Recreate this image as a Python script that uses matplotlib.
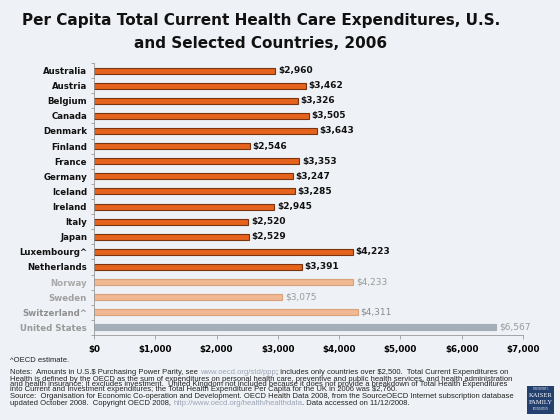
import matplotlib
matplotlib.use("Agg")
import matplotlib.pyplot as plt
from matplotlib.patches import Rectangle

countries = ["Australia", "Austria", "Belgium", "Canada", "Denmark", "Finland", "France",
             "Germany", "Iceland", "Ireland", "Italy", "Japan", "Luxembourg^", "Netherlands",
             "Norway", "Sweden", "Switzerland^", "United States"]
values = [2960, 3462, 3326, 3505, 3643, 2546, 3353, 3247, 3285, 2945, 2520, 2529,
          4223, 3391, 4233, 3075, 4311, 6567]
xticks = [0, 1000, 2000, 3000, 4000, 5000, 6000, 7000]
xtick_labels = ["$0", "$1,000", "$2,000", "$3,000", "$4,000", "$5,000", "$6,000", "$7,000"]

bg = "#eef1f5"
orange = "#e5631c"
orange_edge = "#7a3510"
faded = "#f1b894"
faded_edge = "#d9a07c"
us_col = "#a3aeb9"

bar_colors = [orange] * 14 + [faded] * 3 + [us_col]
edge_colors = [orange_edge] * 14 + [faded_edge] * 3 + [us_col]
label_colors = ["#111111"] * 14 + ["#a9a9a9", "#a0a0a0", "#909090", "#9a9a9a"]
value_colors = ["#111111"] * 14 + ["#9a9a9a", "#9a9a9a", "#8a8a8a", "#9a9a9a"]

fig = plt.figure(figsize=(5.6, 4.2), dpi=100, facecolor=bg)
ax = fig.add_axes([94/560, 1-335/420, (523-94)/560, (335-63)/420])
ax.set_facecolor(bg)

y = list(range(len(countries)))
ax.barh(y, values, height=0.4, color=bar_colors, edgecolor=edge_colors, linewidth=0.8)
ax.set_ylim(len(countries) - 0.5, -0.5)
ax.set_xlim(0, 7000)

ax.set_yticks(y)
ax.set_yticklabels(countries, fontsize=6.2, fontweight="bold")
for lab, c in zip(ax.get_yticklabels(), label_colors):
    lab.set_color(c)
ax.tick_params(axis="y", length=0, pad=5)
ax.set_yticks([i + 0.5 for i in range(-1, len(countries))], minor=True)
ax.tick_params(axis="y", which="minor", length=2.5, color="#999999", width=0.6)

ax.set_xticks(xticks)
ax.set_xticklabels(xtick_labels, fontsize=6.3, fontweight="bold")
ax.tick_params(axis="x", length=3, color="#999999", width=0.6, pad=4)

for s in ["top", "right"]:
    ax.spines[s].set_visible(False)
for s in ["left", "bottom"]:
    ax.spines[s].set_color("#999999")
    ax.spines[s].set_linewidth(0.6)

for yi, v, c in zip(y, values, value_colors):
    ax.text(v + 40, yi, "${:,}".format(v), va="center", ha="left", fontsize=6.5,
            fontweight="bold" if c == "#111111" else "normal", color=c)

fig.text(261/560, 1-21/420, "Per Capita Total Current Health Care Expenditures, U.S.",
         ha="center", va="center", fontsize=11, fontweight="heavy", color="#111111")
fig.text(261/560, 1-43/420, "and Selected Countries, 2006",
         ha="center", va="center", fontsize=11, fontweight="heavy", color="#111111")

fs = 5.5
fn = dict(fontsize=fs, family="Liberation Sans", color="#222222")
link = dict(fontsize=fs, family="Liberation Sans", color="#9aa4b4")

fig.text(10/560, 1-361/420, "^OECD estimate.", va="center", **fn)


def seq(ypix, parts):
    last = None
    for txt, kw in parts:
        if last is None:
            last = fig.text(10/560, 1-ypix/420, txt, va="center", ha="left", **kw)
        else:
            last = ax.annotate(txt, xy=(1, 0.5), xycoords=last, va="center", ha="left",
                               annotation_clip=False, **kw)


seq(372.8, [("Notes:  Amounts in U.S.$ Purchasing Power Parity, see ", fn),
            ("www.oecd.org/std/ppp", link),
            ("; includes only countries over $2,500.  Total Current Expenditures on", fn)])
fig.text(10/560, 1-384.6/420,
         "Health is defined by the OECD as the sum of expenditures on personal health care, preventive and public health services, and health administration\n"
         "and health insurance; it excludes investment.  United Kingdom not included because it does not provide a breakdown of Total Health Expenditures\n"
         "into Current and Investment expenditures; the Total Health Expenditure Per Capita for the UK in 2006 was $2,760.",
         va="center", ha="left", linespacing=0.66, **fn)
seq(396.8, [("Source:  Organisation for Economic Co-operation and Development. OECD Health Data 2008, from the SourceOECD Internet subscription database", fn)])
seq(403.6, [("updated October 2008.  Copyright OECD 2008, ", fn),
            ("http://www.oecd.org/health/healthdata", link),
            (". Data accessed on 11/12/2008.", fn)])

# logo
lx, ly, lw, lh = 527/560, 1-414/420, 27/560, 28/420
fig.patches.append(Rectangle((lx, ly), lw, lh, transform=fig.transFigure,
                             facecolor="#23406e", edgecolor="none"))
cx = lx + lw/2
fig.text(cx, 1-389.5/420, "THE HENRY J.", ha="center", va="center", fontsize=1.8,
         color="white", family="Liberation Serif")
fig.text(cx, 1-395.5/420, "KAISER", ha="center", va="center", fontsize=4.8,
         color="white", family="Liberation Serif")
fig.text(cx, 1-402.5/420, "FAMILY", ha="center", va="center", fontsize=4.8,
         color="white", family="Liberation Serif")
fig.text(cx, 1-409.5/420, "FOUNDATION", ha="center", va="center", fontsize=1.8,
         color="white", family="Liberation Serif")

fig.savefig("out.png", dpi=100, facecolor=bg)
